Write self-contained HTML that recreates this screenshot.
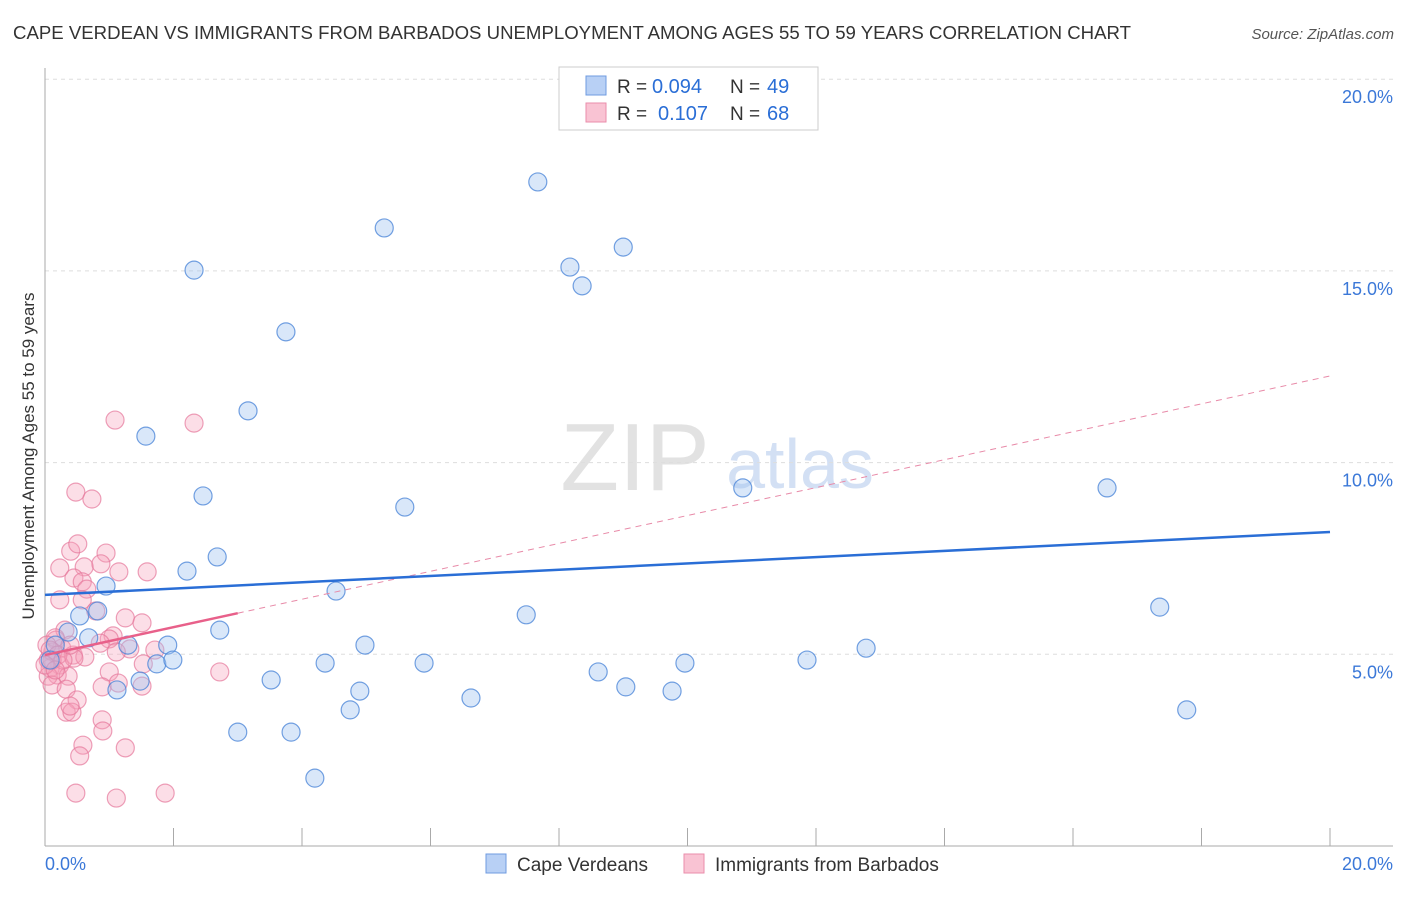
<!DOCTYPE html>
<html><head><meta charset="utf-8"><style>
body{margin:0;background:#fff;font-family:"Liberation Sans",sans-serif;}
svg text{font-family:"Liberation Sans",sans-serif;}
</style></head><body>
<svg id="chart" width="1406" height="892" xmlns="http://www.w3.org/2000/svg">
<text x="13" y="39" font-size="18.5" fill="#333" textLength="1118" lengthAdjust="spacingAndGlyphs">CAPE VERDEAN VS IMMIGRANTS FROM BARBADOS UNEMPLOYMENT AMONG AGES 55 TO 59 YEARS CORRELATION CHART</text>
<text x="1394" y="39" font-size="15" fill="#555" text-anchor="end" font-style="italic">Source: ZipAtlas.com</text>
<text transform="translate(34,456) rotate(-90)" font-size="17" fill="#333" text-anchor="middle">Unemployment Among Ages 55 to 59 years</text>
<g>
<text x="635" y="490" font-size="96" fill="#e2e2e2" text-anchor="middle" font-family="Liberation Serif">ZIP</text>
<text x="800" y="488" font-size="70" fill="#d3e0f4" text-anchor="middle">atlas</text>
</g>
<g id="grid"></g><g id="axes"></g><g id="pts"></g><g id="trend"></g>
<g>
<rect x="559" y="67" width="259" height="63" fill="#fff" stroke="#ccc"/>
<rect x="586" y="76" width="20" height="19" fill="#b8d0f5" stroke="#6f9be0"/>
<rect x="586" y="103" width="20" height="19" fill="#f9c3d3" stroke="#ea8eab"/>
<text x="617" y="93" font-size="19" fill="#333">R =</text>
<text x="652" y="93" font-size="20" fill="#2a6ed6">0.094</text>
<text x="730" y="93" font-size="19" fill="#333">N =</text>
<text x="767" y="93" font-size="20" fill="#2a6ed6">49</text>
<text x="617" y="120" font-size="19" fill="#333">R =</text>
<text x="658" y="120" font-size="20" fill="#2a6ed6">0.107</text>
<text x="730" y="120" font-size="19" fill="#333">N =</text>
<text x="767" y="120" font-size="20" fill="#2a6ed6">68</text>
</g>
<g>
<rect x="486" y="854" width="20" height="19" fill="#b8d0f5" stroke="#6f9be0"/>
<text x="517" y="871" font-size="19" fill="#333">Cape Verdeans</text>
<rect x="684" y="854" width="20" height="19" fill="#f9c3d3" stroke="#ea8eab"/>
<text x="715" y="871" font-size="19" fill="#333">Immigrants from Barbados</text>
</g>
</svg>
<script>
const blueX=[7.67,5.28,9.00,2.32,8.17,8.36,3.75,3.16,1.57,10.86,16.53,2.46,5.60,2.68,2.21,0.95,4.53,0.82,0.54,7.49,17.35,2.72,0.36,0.68,1.91,4.98,1.29,12.78,1.74,1.99,11.86,9.96,4.36,5.90,8.61,3.52,1.48,1.12,4.90,9.04,9.76,6.63,4.75,17.77,3.00,3.83,4.20,0.16,0.08];
const blueY=[17.32,16.12,15.62,15.02,15.10,14.61,13.41,11.35,10.69,9.34,9.34,9.13,8.84,7.54,7.17,6.78,6.65,6.13,6.00,6.03,6.23,5.63,5.58,5.43,5.24,5.24,5.24,5.16,4.75,4.85,4.85,4.77,4.77,4.77,4.54,4.33,4.30,4.07,4.04,4.15,4.04,3.86,3.55,3.55,2.97,2.97,1.77,5.24,4.85];
const pinkX=[0.48,0.73,1.09,2.32,0.40,0.95,0.51,0.23,0.61,0.87,0.45,0.58,1.15,1.59,0.65,0.58,0.23,0.79,1.25,1.51,0.31,1.06,1.00,0.17,0.86,0.26,0.44,0.62,1.32,1.71,1.11,0.12,0.05,0.23,0.45,0.08,1.53,1.00,2.72,0.19,0.36,0.05,0.11,0.33,0.89,1.14,1.51,0.50,0.33,0.42,0.39,0.89,0.90,0.59,0.54,1.25,0.48,1.11,1.87,0.16,0.03,0.08,0.20,0.11,0.00,0.28,0.39,0.16];
const pinkY=[9.23,9.05,11.11,11.03,7.69,7.64,7.88,7.25,7.28,7.36,6.99,6.89,7.15,7.15,6.70,6.42,6.42,6.13,5.95,5.82,5.63,5.48,5.40,5.37,5.29,5.16,4.98,4.93,5.14,5.11,5.06,5.06,4.85,4.72,4.90,4.64,4.75,4.54,4.54,4.46,4.43,4.43,4.20,4.09,4.15,4.25,4.17,3.81,3.49,3.49,3.65,3.29,3.00,2.63,2.35,2.56,1.38,1.25,1.38,5.43,5.24,5.11,4.98,4.85,4.72,4.85,5.24,4.59];
const yTicks=[5,10,15,20];
const yTickLabels=["5.0%","10.0%","15.0%","20.0%"];
const xTicks=[0,2,4,6,8,10,12,14,16,18,20];
const blueTrend=[6.55,8.19];
const pinkTrend=[4.98,12.26];
const pinkSolidEnd=3.0;
const NS="http://www.w3.org/2000/svg";
const X=v=>45+v*64.25, Y=v=>846-v*38.34;
function mk(tag,parent,attrs){const e=document.createElementNS(NS,tag);for(const k in attrs)e.setAttribute(k,attrs[k]);document.getElementById(parent).appendChild(e);return e;}
yTicks.forEach((t,i)=>{
 const l=mk('line','grid',{x1:45,x2:1393,y1:Y(t),y2:Y(t),stroke:'#ddd','stroke-dasharray':'4,4'});
 
 
 const tx=mk('text','axes',{x:1393,y:Y(t)+24,'font-size':18,fill:'#3b78d8','text-anchor':'end'});
 tx.textContent=yTickLabels[i];
 
 
});
const ax=mk('line','axes',{x1:45,x2:45,y1:68,y2:846,stroke:'#aaa'});


const bx=mk('line','axes',{x1:45,x2:1393,y1:846,y2:846,stroke:'#aaa'});


xTicks.forEach(t=>{const l=mk('line','axes',{x1:X(t),x2:X(t),y1:828,y2:846,stroke:'#aaa'});
 
 });
const x0=mk('text','axes',{x:45,y:870,'font-size':18,fill:'#3b78d8'});x0.textContent='0.0%';


const x1=mk('text','axes',{x:1393,y:870,'font-size':18,fill:'#3b78d8','text-anchor':'end'});x1.textContent='20.0%';


pinkX.forEach((v,i)=>{const c=mk('circle','pts',{cx:X(v),cy:Y(pinkY[i]),r:9,fill:'rgba(245,160,185,0.35)',stroke:'rgba(230,120,155,0.7)','stroke-width':1.2});
 
 });
blueX.forEach((v,i)=>{const c=mk('circle','pts',{cx:X(v),cy:Y(blueY[i]),r:9,fill:'rgba(160,195,240,0.4)',stroke:'rgba(70,130,215,0.75)','stroke-width':1.2});
 
 });
const pd=mk('line','trend',{x1:X(pinkSolidEnd),y1:Y(pinkTrend[0]+(pinkTrend[1]-pinkTrend[0])*pinkSolidEnd/20),x2:X(20),y2:Y(pinkTrend[1]),stroke:'#e88aa8','stroke-width':1,'stroke-dasharray':'6,5'});


const ps=mk('line','trend',{x1:X(0),y1:Y(pinkTrend[0]),x2:X(pinkSolidEnd),y2:Y(pinkTrend[0]+(pinkTrend[1]-pinkTrend[0])*pinkSolidEnd/20),stroke:'#e8608a','stroke-width':2.5});


const bl=mk('line','trend',{x1:X(0),y1:Y(blueTrend[0]),x2:X(20),y2:Y(blueTrend[1]),stroke:'#2a6ed6','stroke-width':2.5});


</script>
</body></html>
